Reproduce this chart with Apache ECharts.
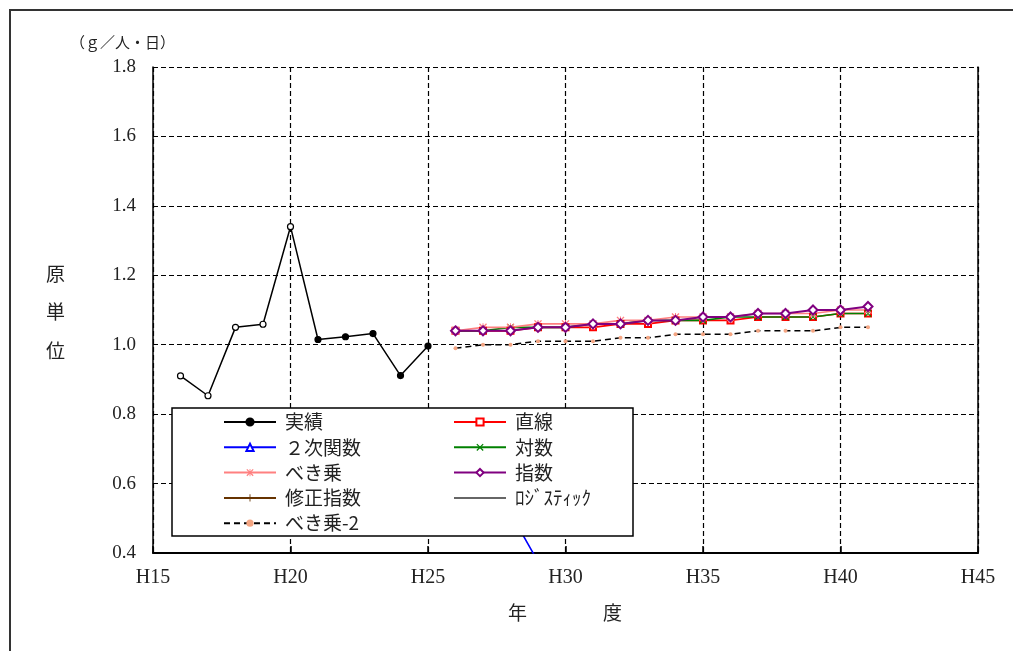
<!DOCTYPE html>
<html>
<head>
<meta charset="utf-8">
<script src="https://cdn.jsdelivr.net/npm/echarts@6/dist/echarts.min.js"></script>
<style>
  html, body { margin: 0; padding: 0; background: #fff; }
  #chart { width: 1013px; height: 651px; }
</style>
</head>
<body>
<div id="chart"></div>
<script>
// 年度 (平成)
const actualYears   = [16, 17, 18, 19, 20, 21, 22, 23, 24, 25];
const forecastYears = [26, 27, 28, 29, 30, 31, 32, 33, 34, 35, 36, 37, 38, 39, 40, 41];

// 原単位 (g/人・日)
const actualValues    = [0.91, 0.853, 1.05, 1.059, 1.34, 1.015, 1.023, 1.032, 0.911, 0.996];
const linearValues    = [1.04, 1.04, 1.04, 1.05, 1.05, 1.05, 1.06, 1.06, 1.07, 1.07, 1.07, 1.08, 1.08, 1.08, 1.09, 1.09];
const quadraticValues = [0.75, 0.64, 0.515, 0.375, 0.22];
const logValues       = [1.04, 1.04, 1.05, 1.05, 1.05, 1.06, 1.06, 1.07, 1.07, 1.07, 1.08, 1.08, 1.08, 1.08, 1.09, 1.09];
const powerValues     = [1.04, 1.05, 1.05, 1.06, 1.06, 1.06, 1.07, 1.07, 1.08, 1.08, 1.08, 1.09, 1.09, 1.09, 1.10, 1.10];
const expValues       = [1.04, 1.04, 1.04, 1.05, 1.05, 1.06, 1.06, 1.07, 1.07, 1.08, 1.08, 1.09, 1.09, 1.10, 1.10, 1.11];
const modExpValues    = [];
const logisticValues  = [];
const power2Values    = [0.99, 1.00, 1.00, 1.01, 1.01, 1.01, 1.02, 1.02, 1.03, 1.03, 1.03, 1.04, 1.04, 1.04, 1.05, 1.05];

// 実績のうち白抜きで表示する点の数（先頭から）
const hollowCount = 5;

// 軸目盛
const xMin = 15, xMax = 45, xStep = 5;
const yMin = 0.4, yMax = 1.8, yStep = 0.2;

const pairs = (years, values) => values.map((v, i) => [years[i], v]);

const SERIF = '"Liberation Serif", "DejaVu Serif", serif';
const JP = '"Noto Sans CJK JP", sans-serif';

const crossPath = 'path://M0,1.2L1.2,0L5,3.8L8.8,0L10,1.2L6.2,5L10,8.8L8.8,10L5,6.2L1.2,10L0,8.8L3.8,5Z';
const asteriskPath = 'path://M0,1.2L1.2,0L5,3.8L8.8,0L10,1.2L6.2,5L10,8.8L8.8,10L5,6.2L1.2,10L0,8.8L3.8,5Z M4.4,0L5.6,0L5.6,10L4.4,10Z';
const plusPath = 'path://M4.4,0L5.6,0L5.6,4.4L10,4.4L10,5.6L5.6,5.6L5.6,10L4.4,10L4.4,5.6L0,5.6L0,4.4L4.4,4.4Z';

function lineSeries(name, data, color, symbol, size, extra) {
  return Object.assign({
    name: name,
    type: 'line',
    data: data,
    symbol: symbol,
    symbolSize: size,
    showAllSymbol: true,
    clip: true,
    z: 2,
    lineStyle: { color: color, width: 1.6 },
    itemStyle: { color: color, borderColor: color, borderWidth: 1.3 },
    emphasis: { disabled: true },
    animation: false
  }, extra || {});
}

const actualData = pairs(actualYears, actualValues).map((p, i) =>
  i < hollowCount
    ? { value: p, itemStyle: { color: '#fff', borderColor: '#000', borderWidth: 1.2 } }
    : { value: p });

const chart = echarts.init(document.getElementById('chart'), null, { renderer: 'canvas' });

const legendText = { fontFamily: JP, fontSize: 19, color: '#222', lineHeight: 20, padding: [0, 0, 0, 4] };

chart.setOption({
  backgroundColor: '#fff',
  animation: false,
  grid: { left: 153, right: 35, top: 67, bottom: 98 },
  xAxis: {
    type: 'value',
    min: xMin, max: xMax, interval: xStep,
    axisLine: { show: true, lineStyle: { color: '#000', width: 2 } },
    axisTick: { show: true, inside: true, length: 7, lineStyle: { color: '#000', width: 1.5 } },
    axisLabel: { fontFamily: SERIF, fontSize: 20, color: '#222', margin: 15, formatter: v => 'H' + v },
    splitLine: { show: true, lineStyle: { color: '#000', width: 1.2, type: [5, 3] } }
  },
  yAxis: [{
    type: 'value',
    min: yMin, max: yMax, interval: yStep,
    axisLine: { show: true, lineStyle: { color: '#000', width: 1.5 } },
    axisTick: { show: false },
    axisLabel: { fontFamily: SERIF, fontSize: 19, color: '#222', margin: 17, formatter: v => v.toFixed(1) },
    splitLine: { show: true, lineStyle: { color: '#000', width: 1.2, type: [5, 3] } }
  }, {
    type: 'value',
    position: 'right',
    min: yMin, max: yMax, interval: yStep,
    axisLine: { show: true, lineStyle: { color: '#000', width: 1.5 } },
    axisTick: { show: false },
    axisLabel: { show: false },
    splitLine: { show: false }
  }],
  legend: [{
    orient: 'vertical',
    left: 218, top: 407,
    itemWidth: 52, itemHeight: 9, itemGap: 5.3,
    textStyle: legendText,
    selectedMode: false,
    z: 5,
    data: ['実績', '２次関数', 'べき乗', '修正指数', 'べき乗-2']
  }, {
    orient: 'vertical',
    left: 448, top: 407,
    itemWidth: 52, itemHeight: 9, itemGap: 5.3,
    textStyle: legendText,
    selectedMode: false,
    z: 5,
    data: ['直線', '対数', '指数', { name: 'ﾛｼﾞｽﾃｨｯｸ', itemStyle: { opacity: 0 } }]
  }],
  graphic: [
    { type: 'rect', z: 3, silent: true,
      shape: { x: 10, y: 10, width: 1100, height: 700 },
      style: { fill: 'none', stroke: '#333', lineWidth: 2 } },
    { type: 'rect', z: 3, silent: true,
      shape: { x: 172, y: 408, width: 461, height: 128 },
      style: { fill: '#fff', stroke: '#000', lineWidth: 1.5 } },
    { type: 'text', z: 5, silent: true, left: 70, top: 35,
      style: { text: '（ｇ／人・日）', font: '15px ' + JP, fill: '#222' } },
    { type: 'text', z: 5, silent: true, left: 46, top: 264,
      style: { text: '原', font: '19px ' + JP, fill: '#222' } },
    { type: 'text', z: 5, silent: true, left: 46, top: 302,
      style: { text: '単', font: '19px ' + JP, fill: '#222' } },
    { type: 'text', z: 5, silent: true, left: 46, top: 341,
      style: { text: '位', font: '19px ' + JP, fill: '#222' } },
    { type: 'text', z: 5, silent: true, left: 508, top: 603,
      style: { text: '年　　　　度', font: '19px ' + JP, fill: '#222' } }
  ],
  series: [
    lineSeries('実績', actualData, '#000', 'circle', 6,
      { lineStyle: { color: '#000', width: 1.5 }, itemStyle: { color: '#000', borderColor: '#000', borderWidth: 1.2 } }),
    lineSeries('直線', pairs(forecastYears, linearValues), '#ff0000', 'emptyRect', 6),
    lineSeries('２次関数', pairs(forecastYears, quadraticValues), '#0000ff', 'emptyTriangle', 7),
    lineSeries('対数', pairs(forecastYears, logValues), '#008000', crossPath, 7,
      { itemStyle: { color: '#008000', borderWidth: 0 } }),
    lineSeries('べき乗', pairs(forecastYears, powerValues), '#ff8080', asteriskPath, 8,
      { itemStyle: { color: '#ff8080', borderWidth: 0 } }),
    lineSeries('指数', pairs(forecastYears, expValues), '#800080', 'emptyDiamond', 9,
      { lineStyle: { color: '#800080', width: 2 }, itemStyle: { color: '#800080', borderColor: '#800080', borderWidth: 1.8 } }),
    lineSeries('修正指数', pairs(forecastYears, modExpValues), '#663300', plusPath, 8,
      { itemStyle: { color: '#663300', borderWidth: 0 } }),
    lineSeries('ﾛｼﾞｽﾃｨｯｸ', pairs(forecastYears, logisticValues), '#666666', 'none', 0,
      { lineStyle: { color: '#666666', width: 2 } }),
    lineSeries('べき乗-2', pairs(forecastYears, power2Values), '#000', 'circle', 4,
      { lineStyle: { color: '#000', width: 1.5, type: [6, 4] }, itemStyle: { color: '#f4a582', borderWidth: 0 } })
  ]
});
</script>
</body>
</html>
